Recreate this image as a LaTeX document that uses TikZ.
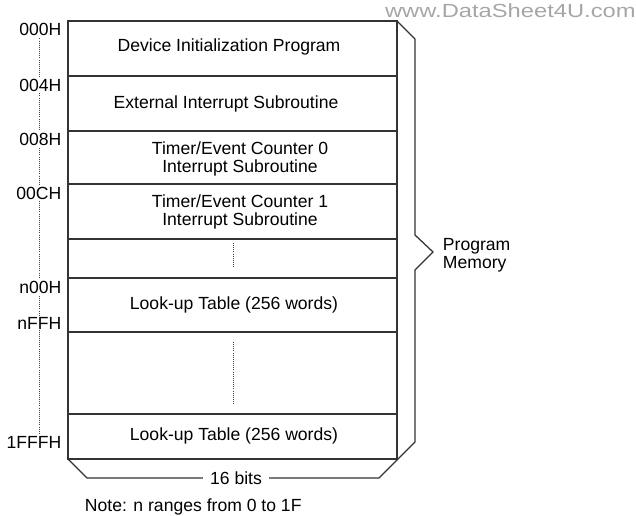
\documentclass[tikz,border=0pt]{standalone}
\usepackage{fontspec}
\setmainfont{Liberation Sans}
\usetikzlibrary{positioning}

\tikzset{
  memline/.style={draw=black!80, line width=0.9pt},
  addr/.style={anchor=east, fill=white, inner sep=1pt},
  dotline/.style={draw=black!75, line width=0.6pt, dash pattern=on 0.6pt off 0.9pt},
}

\begin{document}
\begin{tikzpicture}[x=0.025cm, y=-0.025cm, font=\fontsize{12.5}{12.8}\selectfont]
    \useasboundingbox (0,0) rectangle (636,515);

    % Address axis
    \draw[dotline] (39,30) -- (39,440);
    \node[addr] (a000) at (63,29) {000H};
    \node[addr] (a004) at (63,85) {004H};
    \node[addr] (a008) at (63,139) {008H};
    \node[addr] (a00c) at (63,193) {00CH};
    \node[addr] (an00) at (63,287) {n00H};
    \node[addr] (anff) at (63,323) {nFFH};
    \node[addr] (a1fff) at (63,442) {1FFFH};

    % Memory block
    \draw[memline] (68,21) rectangle (397,459);
    \foreach \y in {76,131,184,239,278,332,414}
        \draw[memline] (68,\y) -- (397,\y);

    % Contents
    \node (init) at (229,47) {Device Initialization Program};
    \node (extint) at (226,104) {External Interrupt Subroutine};
    \node[align=center] (tmr0) at (240,159) {Timer/Event Counter 0\\Interrupt Subroutine};
    \node[align=center] (tmr1) at (240,212) {Timer/Event Counter 1\\Interrupt Subroutine};
    \draw[dotline] (233,243) -- (233,268);
    \node (lut1) at (234,305) {Look-up Table (256 words)};
    \draw[dotline] (233,342) -- (233,405);
    \node (lut2) at (234,436) {Look-up Table (256 words)};

    % Width and program memory brace
    \draw[memline] (68,459) -- (87,478) -- (379,478) -- (415,442) -- (415,270)
        -- (433,252) -- (415,235) -- (415,39) -- (397,21);
    \node[fill=white, inner xsep=5pt, inner ysep=1pt] (width) at (236,478) {16 bits};
    \node[align=left, anchor=west] (pmem) at (438,255) {Program\\Memory};

    \node[anchor=west] (note) at (80,507) {Note: n ranges from 0 to 1F};

    % Watermark
    \node[text=black!35, anchor=east, inner sep=0pt, xscale=1.25,
          font=\fontsize{13.5}{14}\selectfont] (wm) at (636,11) {www.DataSheet4U.com};
\end{tikzpicture}
\end{document}
